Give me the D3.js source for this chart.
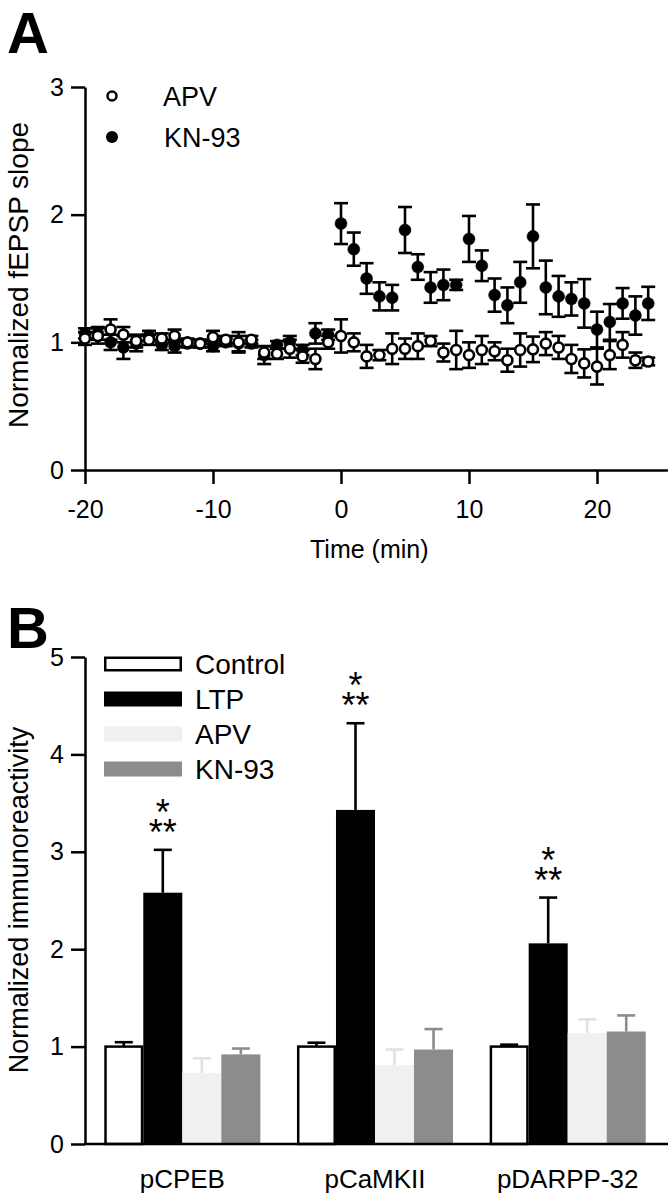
<!DOCTYPE html>
<html><head><meta charset="utf-8">
<script src="https://cdn.jsdelivr.net/npm/d3@7"></script>
<style>
body{margin:0;background:#fff;}
svg{display:block;font-family:"Liberation Sans",Arial,sans-serif;}
</style></head><body>
<svg id="chart" width="670" height="1200"></svg>
<script>
// ---------- Panel A data ----------
const times = [-20,-19,-18,-17,-16,-15,-14,-13,-12,-11,-10,-9,-8,-7,-6,-5,-4,-3,-2,-1,
  0,1,2,3,4,5,6,7,8,9,10,11,12,13,14,15,16,17,18,19,20,21,22,23,24];
const apvMean = [1.03,1.05,1.10,1.06,1.01,1.02,1.03,1.05,1.00,0.99,1.04,1.02,1.00,1.02,0.92,0.91,0.95,0.89,0.87,1.00,
  1.05,1.00,0.89,0.90,0.95,0.95,0.97,1.01,0.92,0.94,0.90,0.94,0.93,0.86,0.94,0.945,0.99,0.96,0.87,0.835,0.81,0.90,0.98,0.86,0.85];
const apvSem = [0.05,0.06,0.08,0.06,0.05,0.04,0.04,0.05,0.03,0.03,0.05,0.03,0.08,0.03,0.05,0.04,0.07,0.05,0.08,0.05,
  0.13,0.07,0.09,0.04,0.12,0.08,0.10,0.04,0.07,0.15,0.10,0.11,0.07,0.09,0.13,0.10,0.09,0.09,0.11,0.11,0.14,0.11,0.10,0.06,0.03];
const kn93Mean = [1.07,1.07,1.00,0.96,0.99,1.05,0.98,0.97,0.99,0.99,0.97,1.00,0.99,0.99,0.90,0.98,1.00,0.94,1.07,1.06,
  1.93,1.73,1.50,1.36,1.35,1.88,1.59,1.43,1.45,1.45,1.81,1.60,1.37,1.29,1.47,1.83,1.43,1.36,1.34,1.305,1.10,1.16,1.305,1.21,1.305];
const kn93Sem = [0.04,0.05,0.06,0.09,0.06,0.04,0.04,0.05,0.03,0.03,0.04,0.03,0.06,0.03,0.07,0.03,0.05,0.04,0.08,0.04,
  0.16,0.13,0.12,0.11,0.10,0.18,0.10,0.12,0.12,0.04,0.18,0.12,0.13,0.14,0.16,0.25,0.21,0.16,0.13,0.19,0.14,0.14,0.12,0.15,0.13];
const timeTicks = [-20,-10,0,10,20];
const slopeTicks = [0,1,2,3];

// ---------- Panel B data ----------
const proteins = ["pCPEB","pCaMKII","pDARPP-32"];
const groups = ["Control","LTP","APV","KN-93"];
const controlMean = [1.00,1.00,1.00];
const controlSem  = [0.045,0.04,0.02];
const ltpMean = [2.58,3.43,2.06];
const ltpSem  = [0.44,0.89,0.47];
const apvBarMean = [0.73,0.81,1.14];
const apvBarSem  = [0.15,0.16,0.14];
const knBarMean = [0.92,0.97,1.155];
const knBarSem  = [0.06,0.21,0.165];
const immunoTicks = [0,1,2,3,4,5];
const sigTop = ["*","*","*"];
const sigBottom = ["**","**","**"];

const svg = d3.select("#chart");
const AX = 2.5;
const fmt = d => (d < 0 ? "-" + Math.abs(d) : String(d));
function styleAxis(g){
  g.selectAll(".domain").attr("stroke","#000").attr("stroke-width",AX);
  g.selectAll(".tick line").attr("stroke","#000").attr("stroke-width",AX);
  g.selectAll(".tick text").attr("fill","#000").style("font-size","25px")
    .style("font-family",'"Liberation Sans",Arial,sans-serif');
}

// ================= Panel A =================
const xA = d3.scaleLinear().domain([-20,25.5]).range([85,667.4]);
const yA = d3.scaleLinear().domain([0,3]).range([470,87]);

const gxA = svg.append("g").attr("transform","translate(0,470)")
  .call(d3.axisBottom(xA).tickValues(timeTicks).tickSize(14).tickSizeOuter(0).tickPadding(16).tickFormat(fmt));
styleAxis(gxA);
const gyA = svg.append("g").attr("transform","translate(85,0)")
  .call(d3.axisLeft(yA).tickValues(slopeTicks).tickSize(14).tickSizeOuter(0).tickPadding(7).tickFormat(fmt));
styleAxis(gyA);

const seriesA = [
  {name:"KN-93", mean:kn93Mean, sem:kn93Sem, fill:"#000"},
  {name:"APV", mean:apvMean, sem:apvSem, fill:"#fff"}
];
const cap = 7;
seriesA.forEach(s=>{
  const g = svg.append("g");
  const pts = times.map((t,i)=>({t, m:s.mean[i], e:s.sem[i]}));
  const eb = g.selectAll("g.eb").data(pts).enter().append("g")
    .attr("stroke","#000").attr("stroke-width",2.6);
  eb.append("line").attr("x1",d=>xA(d.t)).attr("x2",d=>xA(d.t))
    .attr("y1",d=>yA(d.m-d.e)).attr("y2",d=>yA(d.m+d.e));
  eb.append("line").attr("x1",d=>xA(d.t)-cap).attr("x2",d=>xA(d.t)+cap)
    .attr("y1",d=>yA(d.m+d.e)).attr("y2",d=>yA(d.m+d.e));
  eb.append("line").attr("x1",d=>xA(d.t)-cap).attr("x2",d=>xA(d.t)+cap)
    .attr("y1",d=>yA(d.m-d.e)).attr("y2",d=>yA(d.m-d.e));
  g.selectAll("circle").data(pts).enter().append("circle")
    .attr("cx",d=>xA(d.t)).attr("cy",d=>yA(d.m))
    .attr("r", s.fill==="#000"?6:5)
    .attr("fill",s.fill).attr("stroke","#000").attr("stroke-width",s.fill==="#000"?0.5:2.6);
});

// legend A
svg.append("circle").attr("cx",112).attr("cy",96).attr("r",4.5).attr("fill","#fff").attr("stroke","#000").attr("stroke-width",2.5);
svg.append("circle").attr("cx",112).attr("cy",137).attr("r",6).attr("fill","#000");
svg.append("text").attr("x",163).attr("y",106).style("font-size","27px").text("APV");
svg.append("text").attr("x",164).attr("y",147).style("font-size","27px").text("KN-93");

svg.append("text").attr("x",7).attr("y",53).style("font-size","58px").style("font-weight","bold").text("A");
svg.append("text").attr("transform","translate(28,275) rotate(-90)").attr("text-anchor","middle")
  .style("font-size","28px").text("Normalized fEPSP slope");
svg.append("text").attr("x",310).attr("y",558).style("font-size","25px").text("Time (min)");

// ================= Panel B =================
const yB = d3.scaleLinear().domain([0,5]).range([1144,657]);
const xB = d3.scaleBand().domain(proteins).range([85,665]).paddingInner(0.19).paddingOuter(0.1);
const xSub = d3.scaleBand().domain(groups).range([0,xB.bandwidth()]);

const barData = [
  {g:"Control", mean:controlMean, sem:controlSem, fill:"#fff", stroke:"#000", err:"#000"},
  {g:"LTP", mean:ltpMean, sem:ltpSem, fill:"#000", stroke:"none", err:"#000"},
  {g:"APV", mean:apvBarMean, sem:apvBarSem, fill:"#f0f0f0", stroke:"none", err:"#e2e2e2"},
  {g:"KN-93", mean:knBarMean, sem:knBarSem, fill:"#8c8c8c", stroke:"none", err:"#8c8c8c"}
];
const bcap = 9;
barData.forEach(s=>{
  const g = svg.append("g");
  const d = proteins.map((p,i)=>({p, m:s.mean[i], e:s.sem[i]}));
  const cx = v => xB(v.p)+xSub(s.g)+xSub.bandwidth()/2;
  g.selectAll("line.err").data(d).enter().append("line")
    .attr("x1",cx).attr("x2",cx)
    .attr("y1",v=>yB(v.m)).attr("y2",v=>yB(v.m+v.e)).attr("stroke",s.err).attr("stroke-width",2.6);
  g.selectAll("line.cap").data(d).enter().append("line")
    .attr("x1",v=>cx(v)-bcap).attr("x2",v=>cx(v)+bcap)
    .attr("y1",v=>yB(v.m+v.e)).attr("y2",v=>yB(v.m+v.e)).attr("stroke",s.err).attr("stroke-width",2.6);
  const inset = s.stroke==="none"?0:1.25;
  g.selectAll("rect").data(d).enter().append("rect")
    .attr("x",v=>xB(v.p)+xSub(s.g)+inset).attr("width",xSub.bandwidth()-2*inset)
    .attr("y",v=>yB(v.m)).attr("height",v=>yB(0)-yB(v.m))
    .attr("fill",s.fill).attr("stroke",s.stroke).attr("stroke-width",2.5);
});

// significance stars (one text element, two lines)
proteins.forEach((p,i)=>{
  const cx = xB(p)+xSub("LTP")+xSub.bandwidth()/2;
  const top = yB(ltpMean[i]+ltpSem[i]);
  const t = svg.append("text").attr("text-anchor","middle").style("font-size","36px");
  t.append("tspan").attr("x",cx).attr("y",top-25).text(sigTop[i]);
  t.append("tspan").attr("x",cx).attr("y",top-5).text(sigBottom[i]);
});

const gyB = svg.append("g").attr("transform","translate(85,0)")
  .call(d3.axisLeft(yB).tickValues(immunoTicks).tickSize(14).tickSizeOuter(0).tickPadding(7).tickFormat(fmt));
styleAxis(gyB);
svg.append("line").attr("x1",85).attr("x2",668).attr("y1",1144).attr("y2",1144).attr("stroke","#000").attr("stroke-width",AX);
const gxB = svg.append("g").attr("transform","translate(0,1144)")
  .call(d3.axisBottom(xB).tickSize(0).tickPadding(26));
gxB.select(".domain").remove();
styleAxis(gxB);
gxB.selectAll(".tick text").style("font-size","26px");

// legend B
const legendRows = [664,699,734,769];
barData.forEach((s,i)=>{
  const inset = s.stroke==="none"?0:1.25;
  svg.append("rect").attr("x",104+inset).attr("y",legendRows[i]-7.5+inset).attr("width",78-2*inset).attr("height",15-2*inset)
    .attr("fill",s.fill).attr("stroke",s.stroke).attr("stroke-width",2.5);
  svg.append("text").attr("x",195).attr("y",legendRows[i]+10).style("font-size","28px").text(s.g);
});

svg.append("text").attr("x",7).attr("y",648).style("font-size","58px").style("font-weight","bold").text("B");
svg.append("text").attr("transform","translate(28,900) rotate(-90)").attr("text-anchor","middle")
  .style("font-size","27px").text("Normalized immunoreactivity");
</script>
</body></html>
